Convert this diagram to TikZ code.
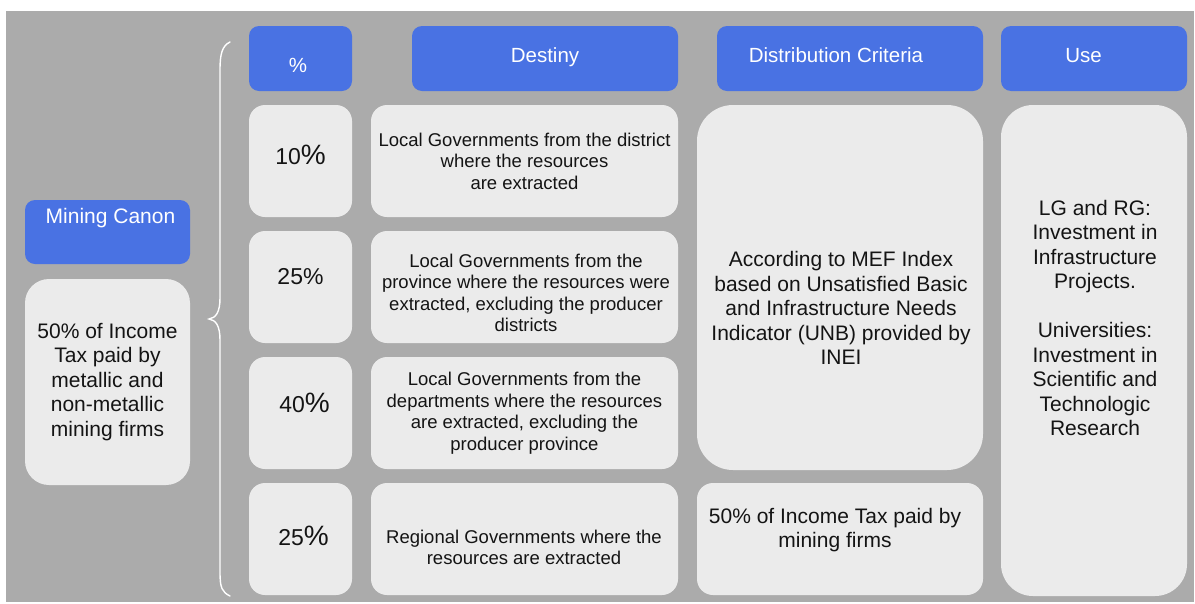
\documentclass[tikz,border=0pt]{standalone}
\usepackage{fontspec}
\setmainfont{Liberation Sans}
\usepackage{xcolor}
\usepackage{tikz}
\usetikzlibrary{positioning}

\definecolor{headblue}{RGB}{73,114,227}
\definecolor{bggray}{RGB}{171,171,171}
\definecolor{cellgray}{RGB}{235,235,235}
\definecolor{ink}{RGB}{20,20,20}

\begin{document}
\begin{tikzpicture}[
        x=1pt, y=-1pt,
        every node/.style={inner sep=0pt, outer sep=0pt, align=center, text=ink, font=\fontsize{21}{24.5}\selectfont},
        head/.style={fill=headblue, text=white, rounded corners=10pt, minimum height=65pt, text height=14.6pt, text depth=6pt, font=\fontsize{20.5}{24}\selectfont},
        cell/.style={fill=cellgray, rounded corners=16pt, minimum height=112pt},
        pct/.style={cell, minimum width=103pt, font=\fontsize{23}{26}\selectfont},
        dest/.style={cell, minimum width=307pt, font=\fontsize{18.5}{21.5}\selectfont},
        desttext/.style={font=\fontsize{18.5}{21.5}\selectfont},
        crit/.style={cell, minimum width=286pt},
        brace/.style={white, line width=1.4pt, line cap=round},
        ]
      \useasboundingbox (0,0) rectangle (1195,603);
      \fill[bggray] (6,11) rectangle (1194,602);

      % left side
      \node [head, minimum width=165pt, minimum height=64pt] (canon) at (107.5,232) {};
      \node [text=white, font=\fontsize{21}{24}\selectfont] (canon-t) at (110.5,218) {Mining Canon};
      \node [cell, minimum width=165pt, minimum height=206pt, rounded corners=24pt] (tax) at (107.5,382)
        {50\% of Income\\Tax paid by\\metallic and\\non-metallic\\mining firms};

      \draw[brace] (230,42) .. controls (222,46) and (220,54) .. (220,70) -- (220,298)
        .. controls (220,312) and (216,318) .. (209,319)
        .. controls (216,320) and (220,326) .. (220,340) -- (220,572)
        .. controls (220,588) and (222,592) .. (230,596);

      % headers and percent column
      \node [head, minimum width=103pt] (pct-h) at (300.5,58.5) {\raisebox{-9.6pt}[0pt][0pt]{\%\hspace{5pt}}};
      \node [pct, below=14pt of pct-h] (pct1) {\raisebox{-3.7pt}[0pt][0pt]{10{\fontsize{28}{28}\selectfont\%}}};
      \node [pct, below=14pt of pct1] (pct2) {\raisebox{2.3pt}[0pt][0pt]{25\%}};
      \node [pct, below=14pt of pct2] (pct3) {\raisebox{0.3pt}[0pt][0pt]{\hspace{8pt}40{\fontsize{28}{28}\selectfont\%}}};
      \node [pct, below=14pt of pct3] (pct4) {\raisebox{-6.2pt}[0pt][0pt]{\hspace{6pt}25{\fontsize{28}{28}\selectfont\%}}};

      % destiny column
      \node [dest, right=19pt of pct1] (dest1) {Local Governments from the district\\where the resources\\are extracted};
      \node [dest, right=19pt of pct2] (dest2) {};
      \node [desttext] (dest2-t) at (526,293) {Local Governments from the\\province where the resources were\\extracted, excluding the producer\\districts};
      \node [dest, right=19pt of pct3] (dest3) {Local Governments from the\\departments where the resources\\are extracted, excluding the\\producer province};
      \node [dest, right=19pt of pct4] (dest4) {};
      \node [desttext] (dest4-t) at (524,547.5) {Regional Governments where the\\resources are extracted};
      \node [head, minimum width=266pt, anchor=east] (dest-h) at (dest1.east |- pct-h) {Destiny};

      % distribution criteria column
      \node [crit, minimum height=365pt, rounded corners=36pt, anchor=north west] (crit1) at ([xshift=19pt]dest1.north east) {};
      \node (crit1-t) at (841,308) {According to MEF Index\\based on Unsatisfied Basic\\and Infrastructure Needs\\Indicator (UNB) provided by\\INEI};
      \node [crit, right=19pt of dest4] (crit2) {};
      \node (crit2-t) at (835,530) {50\% of Income Tax paid by\\mining firms};
      \node [head, minimum width=266pt, anchor=east] (crit-h) at (crit1.east |- pct-h) {Distribution Criteria\hspace{28pt}};

      % use column
      \node [cell, minimum width=186pt, minimum height=491pt, rounded corners=32pt, anchor=north west] (use) at ([xshift=18pt]crit1.north east) {};
      \node (use-t) at (1095,318) {LG and RG:\\Investment in\\Infrastructure\\Projects.\\[24.5pt]Universities:\\Investment in\\Scientific and\\Technologic\\Research};
      \node [head, minimum width=186pt] (use-h) at (use.north |- pct-h) {Use\hspace{21pt}};
    \end{tikzpicture}
\end{document}
